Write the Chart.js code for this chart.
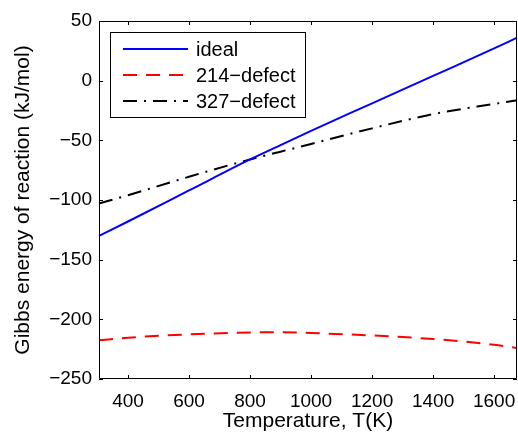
<!DOCTYPE html>
<html>
<head>
<meta charset="utf-8">
<script src="https://cdn.jsdelivr.net/npm/chart.js@4.4.0/dist/chart.umd.min.js"></script>
<style>
  html, body { margin: 0; padding: 0; background: #fff; }
  #wrap { width: 518px; height: 434px; }
</style>
</head>
<body>
<div id="wrap"><canvas id="gibbs" width="518" height="434"></canvas></div>
<script>
// values (T in K, energy in kJ/mol)
var temps      = [305, 400, 600, 800, 900, 1000, 1200, 1400, 1600, 1675];
var ideal      = [-130, -118, -92, -66, -54, -42, -19, 4, 27, 36];
var defect214  = [-217.6, -215.4, -212.6, -211, -210.8, -211.5, -213.5, -216.5, -221.3, -224];
var defect327  = [-103, -96, -80.5, -66, -59.5, -53, -40, -28, -19.5, -16.5];

var seriesNames = ["ideal", "214\u2212defect", "327\u2212defect"];
var xTicks = [400, 600, 800, 1000, 1200, 1400, 1600];
var yTicks = [-250, -200, -150, -100, -50, 0, 50];

var fontFam = "'Liberation Sans', Arial, Helvetica, sans-serif";

function toPoints(ys)
{
    var pts = [];
    for (let i = 0; i < temps.length; i++) {
        pts.push({ x: temps[i], y: ys[i] });
    }
    return pts;
}

function minusLabel(v)
{
    return v < 0 ? "\u2212" + Math.abs(v) : "" + v;
}

// box around the axes + inward tick marks on all four sides (matlab look)
var boxPlugin = {
    id: 'matlabBox',
    afterDraw: function(chart) {
        var ctx = chart.ctx;
        var a = chart.chartArea;
        var xs = chart.scales.x, ys = chart.scales.y;
        var len = 4;
        ctx.save();
        ctx.strokeStyle = '#000';
        ctx.lineWidth = 1;
        ctx.beginPath();
        ctx.rect(a.left + 0.5, a.top + 0.5, a.right - a.left - 1, a.bottom - a.top - 1);
        ctx.stroke();
        ctx.beginPath();
        xTicks.forEach(function(t) {
            var px = Math.round(xs.getPixelForValue(t)) + 0.5;
            ctx.moveTo(px, a.bottom); ctx.lineTo(px, a.bottom - len);
            ctx.moveTo(px, a.top); ctx.lineTo(px, a.top + len);
        });
        yTicks.forEach(function(t) {
            var py = Math.round(ys.getPixelForValue(t)) + 0.5;
            ctx.moveTo(a.left, py); ctx.lineTo(a.left + len, py);
            ctx.moveTo(a.right, py); ctx.lineTo(a.right - len, py);
        });
        ctx.stroke();
        ctx.restore();
    }
};

// legend box in the upper left corner of the axes
var legendPlugin = {
    id: 'boxLegend',
    afterDraw: function(chart) {
        var ctx = chart.ctx;
        var a = chart.chartArea;
        var bx = a.left + 11, by = a.top + 11, bw = 195, bh = 85;
        ctx.save();
        ctx.fillStyle = '#fff';
        ctx.fillRect(bx, by, bw, bh);
        ctx.strokeStyle = '#000';
        ctx.lineWidth = 1;
        ctx.strokeRect(bx + 0.5, by + 0.5, bw, bh);
        ctx.font = '20px ' + fontFam;
        ctx.textBaseline = 'middle';
        ctx.textAlign = 'left';
        chart.data.datasets.forEach(function(ds, i) {
            var cy = by + 17 + i * 26;
            ctx.beginPath();
            ctx.setLineDash(ds.borderDash || []);
            ctx.strokeStyle = ds.borderColor;
            ctx.lineWidth = ds.borderWidth;
            ctx.moveTo(bx + 13, cy);
            ctx.lineTo(bx + 78, cy);
            ctx.stroke();
            ctx.setLineDash([]);
            ctx.fillStyle = '#000';
            ctx.fillText(ds.label, bx + 86, cy + 1);
        });
        ctx.restore();
    }
};

var ctx = document.getElementById("gibbs").getContext("2d");
var chartId = new Chart(ctx, {
    type: 'line',
    data: {
        datasets: [
            {
                label: seriesNames[0],
                data: toPoints(ideal),
                borderColor: '#0000ff',
                borderWidth: 2,
                pointRadius: 0,
                cubicInterpolationMode: 'monotone'
            },
            {
                label: seriesNames[1],
                data: toPoints(defect214),
                borderColor: '#ff0000',
                borderWidth: 2,
                borderDash: [14, 9],
                pointRadius: 0,
                cubicInterpolationMode: 'monotone'
            },
            {
                label: seriesNames[2],
                data: toPoints(defect327),
                borderColor: '#000000',
                borderWidth: 2,
                borderDash: [14, 7, 2, 7],
                pointRadius: 0,
                cubicInterpolationMode: 'monotone'
            }
        ]
    },
    options: {
        responsive: false,
        animation: false,
        clip: false,
        layout: {
            padding: { left: 0, right: 1, top: 21, bottom: 0 }
        },
        scales: {
            x: {
                type: 'linear',
                min: 305,
                max: 1675,
                afterBuildTicks: function(scale) {
                    scale.ticks = xTicks.map(function(v) { return { value: v }; });
                },
                afterFit: function(scale) {
                    scale.height = 55;
                    scale.paddingLeft = 0;
                    scale.paddingRight = 0;
                },
                grid: { display: false, drawTicks: false },
                border: { display: false },
                ticks: {
                    color: '#000',
                    padding: 11,
                    maxRotation: 0,
                    font: { family: fontFam, size: 19 },
                    callback: function(v) { return minusLabel(v); }
                },
                title: {
                    display: true,
                    text: 'Temperature, T(K)',
                    color: '#000',
                    padding: { top: 0, bottom: 0 },
                    font: { family: fontFam, size: 21 }
                }
            },
            y: {
                min: -250,
                max: 50,
                afterBuildTicks: function(scale) {
                    scale.ticks = yTicks.map(function(v) { return { value: v }; });
                },
                afterFit: function(scale) {
                    scale.width = 99;
                    scale.paddingTop = 0;
                    scale.paddingBottom = 0;
                },
                grid: { display: false, drawTicks: false },
                border: { display: false },
                ticks: {
                    color: '#000',
                    padding: 7,
                    font: { family: fontFam, size: 19 },
                    callback: function(v) { return minusLabel(v); }
                },
                title: {
                    display: true,
                    text: 'Gibbs energy of reaction (kJ/mol)',
                    color: '#000',
                    padding: { top: 11, bottom: 0 },
                    font: { family: fontFam, size: 21 }
                }
            }
        },
        plugins: {
            legend: { display: false },
            tooltip: { enabled: false }
        }
    },
    plugins: [boxPlugin, legendPlugin]
});
</script>
</body>
</html>
